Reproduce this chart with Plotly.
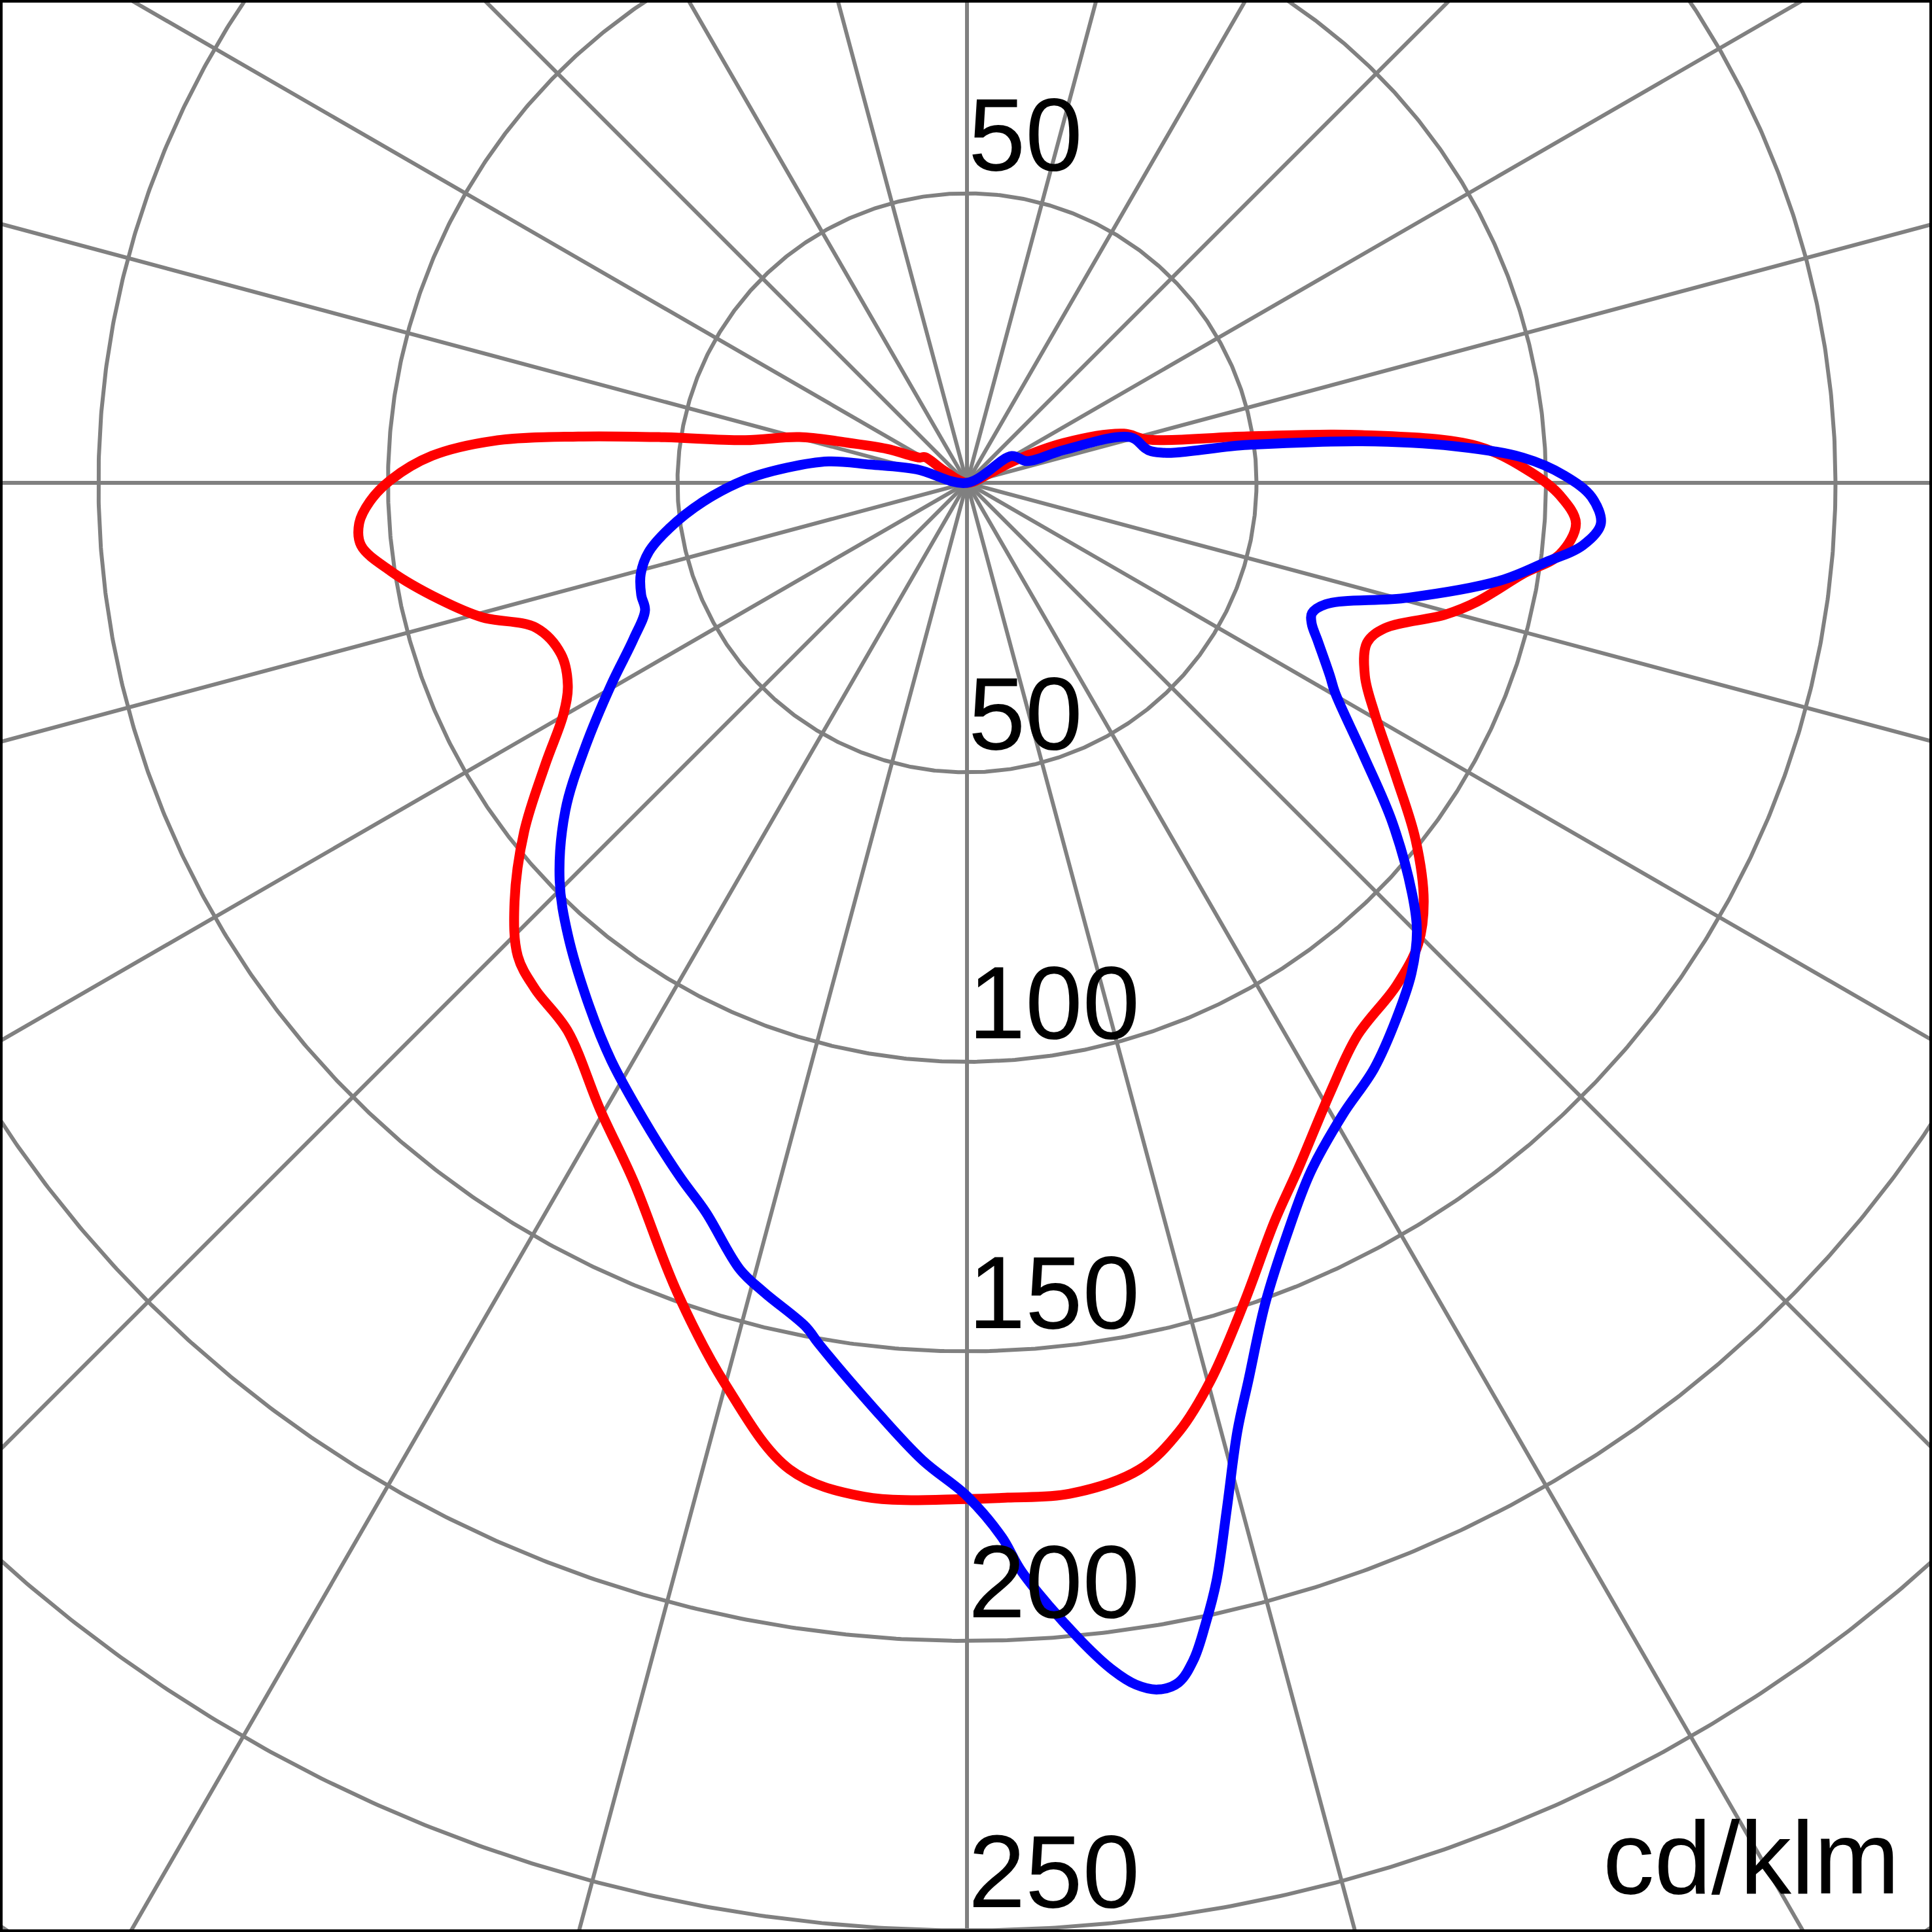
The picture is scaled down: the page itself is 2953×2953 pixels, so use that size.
import numpy as np
import plotly.graph_objects as go

# ---------------- data (cd/klm, gamma in degrees from nadir) ----------------
RED_LEFT_GAMMA = [0, 5.8, 10.2, 15, 19.7, 25.5, 30.3, 36.1, 40.5, 43.5, 47.2, 51.8, 56.3, 60.2,
                  63.1, 67.1, 71.4, 74.5, 77.5, 81.3, 84.1, 86.2, 88.2, 90.3, 92.9, 95.1, 96.8,
                  98.5, 100.9, 105.3, 108.7, 113, 118, 121.5, 118, 125]
RED_LEFT_I = [175.5, 176, 173.1, 161.2, 148.5, 133.7, 125.5, 117.1, 114.9, 112.7, 106.5, 97.3,
              87.5, 80.3, 77.3, 76.1, 78.5, 86.9, 93.2, 100.7, 105.2, 105.2, 103.2, 99.5, 92.5,
              81.9, 67.6, 53.4, 39, 30, 21.5, 15, 9.3, 8.5, 4.5, 0]

RED_RIGHT_GAMMA = [0, 2.3, 5.8, 9.9, 12.6, 15.2, 18.7, 22.6, 25.7, 30.9, 35.2, 40.5, 44.4, 47.5,
                   51.5, 55.6, 60.5, 64.1, 68.2, 70.8, 74.6, 76.9, 80.7, 83.1, 86.2, 88.8, 91,
                   94.1, 96.9, 99.4, 103.5, 107.4, 112.4, 115, 113, 120]
RED_RIGHT_I = [175.5, 175.4, 175.5, 173, 167.9, 160.6, 149.4, 138.2, 131.7, 122.4, 116.9, 114.2,
               111.4, 107, 99, 89.8, 80.9, 76.4, 74.4, 76.4, 85.7, 90.5, 97.3, 103.1, 105.4,
               102.4, 97.6, 88.4, 68.7, 49.1, 32, 28.4, 18.1, 9, 4.5, 0]

BLUE_LEFT_GAMMA = [0, 2.6, 5.8, 9.8, 10.8, 14.1, 16.1, 19.7, 22.4, 26.0, 31.6, 35.8, 41.4, 45.7,
                   50.8, 55.3, 60.4, 64.9, 68.4, 71, 74.4, 77.8, 81.4, 85.9, 90.8, 94.8, 98.8,
                   100.7, 105, 115]
BLUE_LEFT_I = [175, 169, 160.5, 150.8, 148.4, 144.1, 141.4, 133.8, 129.8, 124.6, 117.2, 111.5,
               104.2, 98.3, 89.5, 80.2, 70.7, 63.6, 59.8, 59.5, 58.5, 56.2, 51.9, 45.7, 38.3,
               31.2, 24.2, 17, 9, 0]

BLUE_RIGHT_GAMMA = [0, 1.9, 2.9, 5.5, 7.0, 8.0, 9.0, 10.0, 10.9, 11.8, 12.8, 14.2, 15.9, 17.4,
                    20.0, 23.1, 26.5, 30.7, 34.8, 38.7, 42.2, 45.1, 47.3, 51.4, 55.5, 60.3, 62,
                    65.7, 67.8, 69.3, 71.3, 75.4, 79.6, 82.2, 84.2, 86.3, 88.7, 90.7, 92.6, 94.3,
                    96, 97.7, 99.7, 105.6, 108.7, 110, 121, 125]
BLUE_RIGHT_I = [175, 182.2, 188.4, 200.4, 206.6, 209.6, 211, 210.4, 207, 201.4, 194.5, 182.9,
                170.4, 162.5, 150.7, 141, 133, 127, 123.2, 118.6, 114.3, 109.7, 104.6, 94, 83.1,
                73.2, 71, 66.5, 64.3, 63.7, 65.4, 78.7, 93.6, 100.9, 106.9, 109.7, 107.9, 103.2,
                96.1, 84.4, 68.6, 48.9, 32.3, 29.3, 17.7, 11, 9, 0]

GRID_RADII = [50, 100, 150, 200, 250, 300]
RADIAL_ANGLES = [0, 15, 30, 45, 60, 75, 90, 105, 120, 135, 150, 165]

LABEL_TEXTS = ["50", "50", "100", "150", "200", "250"]
LABEL_Y = [50, -50, -100, -150, -200, -250]
UNIT_TEXT = "cd/klm"

# ---------------- geometry ----------------
W = H = 2953
CX, CY = 1478, 738          # pixel position of the pole
PX_PER_UNIT = 8.85
X_RANGE = [-CX / PX_PER_UNIT, (W - CX) / PX_PER_UNIT]
Y_RANGE = [-(H - CY) / PX_PER_UNIT, CY / PX_PER_UNIT]

GRAY = "#808080"
FONT = "Liberation Sans, Arial, Helvetica, sans-serif"
FONT_SIZE = 157


def to_xy(gammas, values, sign):
    g = np.radians(np.asarray(gammas, dtype=float))
    r = np.asarray(values, dtype=float)
    return sign * r * np.sin(g), -r * np.cos(g)


def curve(left_g, left_i, right_g, right_i):
    xl, yl = to_xy(left_g, left_i, -1)
    xr, yr = to_xy(right_g, right_i, 1)
    x = np.concatenate([xl[::-1], xr[1:]])
    y = np.concatenate([yl[::-1], yr[1:]])
    return x, y


fig = go.Figure()

# grid circles
t = np.linspace(0, 2 * np.pi, 1441)
for R in GRID_RADII:
    fig.add_trace(go.Scatter(x=R * np.cos(t), y=R * np.sin(t), mode="lines",
                             line=dict(color=GRAY, width=6), hoverinfo="skip"))

# radial lines
L = 400
for a in RADIAL_ANGLES:
    ar = np.radians(a)
    fig.add_trace(go.Scatter(x=[-L * np.sin(ar), L * np.sin(ar)],
                             y=[L * np.cos(ar), -L * np.cos(ar)], mode="lines",
                             line=dict(color=GRAY, width=6), hoverinfo="skip"))

# intensity curves
rx, ry = curve(RED_LEFT_GAMMA, RED_LEFT_I, RED_RIGHT_GAMMA, RED_RIGHT_I)
fig.add_trace(go.Scatter(x=rx, y=ry, mode="lines",
                         line=dict(color="#FF0000", width=15, shape="spline", smoothing=1.0),
                         hoverinfo="skip"))
bx, by = curve(BLUE_LEFT_GAMMA, BLUE_LEFT_I, BLUE_RIGHT_GAMMA, BLUE_RIGHT_I)
fig.add_trace(go.Scatter(x=bx, y=by, mode="lines",
                         line=dict(color="#0000FF", width=15, shape="spline", smoothing=1.0),
                         hoverinfo="skip"))

annotations = []
for txt, yv in zip(LABEL_TEXTS, LABEL_Y):
    annotations.append(dict(x=0, y=yv, xref="x", yref="y", text=txt, showarrow=False,
                            xanchor="left", yanchor="bottom", xshift=0, yshift=1,
                            font=dict(family=FONT, size=FONT_SIZE, color="black")))
annotations.append(dict(x=0.984, y=0.008, xref="paper", yref="paper", text=UNIT_TEXT,
                        showarrow=False, xanchor="right", yanchor="bottom",
                        font=dict(family=FONT, size=FONT_SIZE, color="black")))

axis_common = dict(showgrid=False, zeroline=False, showticklabels=False, ticks="",
                   showline=False, fixedrange=True)
fig.update_layout(
    width=W, height=H,
    margin=dict(l=0, r=0, t=0, b=0, pad=0),
    paper_bgcolor="white", plot_bgcolor="white",
    showlegend=False,
    xaxis=dict(range=X_RANGE, **axis_common),
    yaxis=dict(range=Y_RANGE, **axis_common),
    annotations=annotations,
    shapes=[dict(type="rect", xref="paper", yref="paper", x0=0, y0=0, x1=1, y1=1,
                 line=dict(color="black", width=8), fillcolor="rgba(0,0,0,0)", layer="above")],
)

fig.write_html(
    "out.html",
    config={"displayModeBar": False, "staticPlot": True},
    post_script="document.body.style.margin='0px';document.body.style.padding='0px';"
                "document.documentElement.style.overflow='hidden';",
)
